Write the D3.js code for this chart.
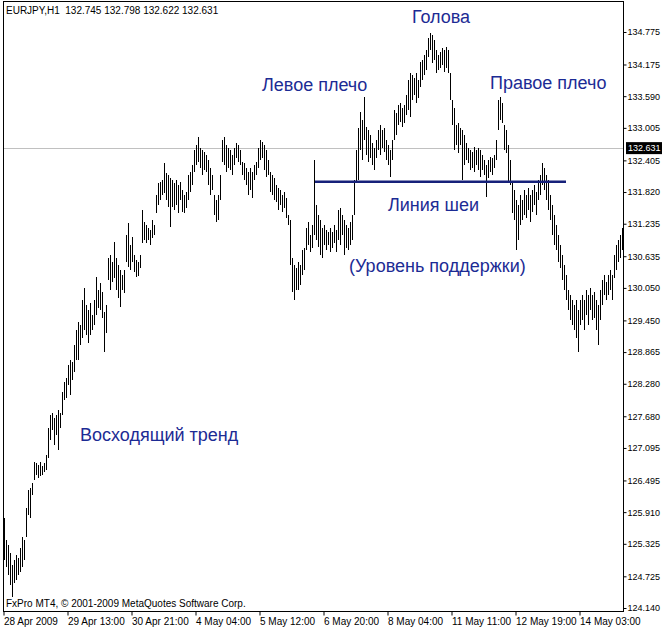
<!DOCTYPE html>
<html>
<head>
<meta charset="utf-8">
<script src="https://cdnjs.cloudflare.com/ajax/libs/d3/7.8.5/d3.min.js"></script>
<style>
    body { margin: 0; background: #fff; }
    #chart-area text { font-family: "Liberation Sans", Arial, sans-serif; }
    .axis-label { font-size: 10px; fill: #000; }
    .note { font-size: 18px; fill: #1c2b94; }
</style>
</head>
<body>
<div id="chart-area"></div>
<script>

// EURJPY H1 bars, high / low per bar (left to right)
const highs = [
    125.80,125.40,125.30,125.16,124.93,125.03,125.12,125.06,125.25,125.45,125.40,
    125.99,126.32,126.36,126.45,126.84,126.82,126.78,126.84,126.76,126.82,126.97,127.46,
    127.70,127.74,127.65,127.70,127.80,127.74,128.13,128.31,128.39,128.63,128.72,128.68,129.00,129.27,
    129.42,129.37,129.83,130.05,129.73,129.64,129.77,129.55,129.83,130.25,130.01,130.14,129.97,129.61,129.73,130.60,130.66,
    130.53,130.90,130.60,130.47,130.38,130.29,130.38,131.03,131.25,130.84,130.99,130.66,130.57,130.53,130.66,131.49,
    131.27,131.21,131.16,131.12,131.30,131.21,131.77,131.99,132.01,132.04,132.36,132.17,132.14,132.08,
    132.04,131.99,132.04,131.95,132.01,131.86,131.77,131.82,132.14,132.19,132.32,132.60,132.69,132.84,
    132.63,132.60,132.56,132.50,132.41,132.26,132.14,131.77,131.67,131.77,132.14,132.78,132.84,132.69,
    132.63,132.60,132.50,132.63,132.73,132.69,132.60,132.38,132.36,132.26,132.19,132.26,132.19,132.32,132.38,
    132.63,132.78,132.74,132.69,132.60,132.41,132.19,132.14,132.08,131.95,131.89,131.86,131.77,131.82,131.71,131.40,131.30,
    130.60,130.47,130.42,130.53,130.47,130.75,130.79,131.16,131.27,131.03,131.21,132.41,
    131.58,131.40,131.30,131.16,131.21,131.12,131.08,131.16,131.08,131.21,131.12,131.49,131.53,131.40,131.30,131.21,131.16,131.27,131.40,
    132.04,132.60,133.00,133.30,133.15,133.58,133.02,132.97,132.87,132.73,132.63,132.78,132.97,133.06,132.97,133.00,132.78,132.69,132.60,132.78,
    133.34,133.28,133.43,133.46,133.37,133.43,133.61,133.89,134.02,133.98,133.93,134.02,133.89,134.22,134.26,134.35,
    134.44,134.66,134.76,134.72,134.63,134.44,134.35,134.41,134.48,134.44,134.50,134.44,134.02,133.52,
    133.37,133.06,133.10,133.00,132.97,132.87,132.73,132.63,132.60,132.56,132.65,132.60,132.63,132.60,132.50,132.41,
    132.32,132.41,132.47,132.45,132.50,132.78,133.52,133.58,133.46,133.06,132.97,132.69,132.41,131.99,131.86,131.67,
    131.58,131.77,131.67,131.86,131.77,131.89,131.77,131.86,131.95,131.82,132.04,132.14,132.36,132.26,132.14,132.04,131.77,131.58,
    131.40,131.21,131.03,130.84,130.66,130.47,130.29,130.01,129.92,129.83,129.73,129.83,129.64,129.83,
    129.92,129.83,130.01,129.92,130.05,129.92,129.97,129.83,129.73,130.01,130.20,130.29,130.16,130.29,130.38,130.29,130.66,130.84,130.93,131.03,131.16
];

const lows = [
    125.03,124.90,124.75,124.56,124.34,124.60,124.66,124.75,124.80,124.90,125.03,
    125.45,125.86,125.80,126.23,126.50,126.60,126.54,126.58,126.60,126.65,126.69,126.91,
    127.24,127.43,127.15,127.33,127.06,127.46,127.70,127.98,128.02,128.26,128.07,128.35,128.50,128.72,
    128.72,129.00,129.13,129.27,129.18,129.03,129.18,129.27,129.37,129.55,129.68,129.64,129.49,128.87,129.22,130.20,130.01,
    130.16,130.23,130.01,129.86,129.70,130.01,129.96,130.53,130.44,130.38,130.53,130.34,130.25,130.27,130.42,130.88,
    130.93,130.88,130.93,130.84,130.97,131.03,131.43,131.58,131.67,131.77,131.80,131.67,131.54,131.18,
    131.54,131.49,131.58,131.43,131.67,131.45,131.43,131.53,131.67,131.82,131.95,132.19,132.32,132.38,
    132.26,132.14,132.23,132.19,131.95,131.77,131.86,131.40,131.27,131.30,131.67,132.38,132.32,132.19,
    132.26,132.23,132.14,132.32,132.45,132.38,132.32,132.14,132.04,131.95,131.77,131.86,131.71,132.04,132.14,
    132.26,132.41,132.45,132.23,132.10,132.14,131.82,131.77,131.67,131.64,131.49,131.58,131.45,131.53,131.34,131.21,130.47,
    129.97,129.83,130.01,130.01,130.10,130.29,130.38,130.75,130.84,130.71,130.79,131.03,
    130.93,130.81,130.66,130.60,130.84,130.75,130.84,130.71,130.79,130.88,130.71,130.93,130.84,131.03,130.66,130.79,130.75,130.84,130.93,
    131.40,132.01,132.04,132.60,132.41,132.78,132.50,132.38,132.45,132.32,132.23,132.45,132.60,132.50,132.63,132.56,132.41,132.32,132.10,132.41,
    132.78,132.87,133.06,133.11,133.02,133.10,133.24,133.34,133.21,133.52,133.61,133.46,133.56,133.76,133.89,133.98,
    134.07,134.31,134.44,134.20,134.26,134.02,134.07,134.11,134.17,134.04,134.11,134.02,133.52,133.06,
    132.60,132.69,132.54,132.69,132.04,132.32,132.41,132.36,132.23,132.26,132.19,132.32,132.23,132.10,132.23,132.14,
    131.73,132.08,132.19,132.14,132.26,132.41,132.97,133.15,133.10,132.60,132.54,131.99,131.95,131.43,131.30,130.75,
    130.93,131.21,131.30,131.40,131.34,131.49,131.27,131.45,131.58,131.40,131.67,131.77,131.95,131.86,131.67,131.49,131.30,131.03,
    130.84,130.75,130.53,130.42,130.20,130.01,129.83,129.64,129.46,129.37,129.27,129.13,128.87,129.37,
    129.46,129.27,129.55,129.37,129.64,129.46,129.49,129.27,129.00,129.46,129.73,129.92,129.83,129.92,130.01,129.83,130.23,130.38,130.53,130.60,130.75
];

const priceTicks = [134.775,134.175,133.590,133.005,132.405,131.820,131.235,130.635,130.050,
    129.450,128.865,128.280,127.680,127.095,126.495,125.910,125.325,124.725,124.140];

const timeTickBars = [0, 32, 64, 96, 128, 160, 192, 224, 256, 288];
const timeTickLabels = ["28 Apr 2009", "29 Apr 13:00", "30 Apr 21:00", "4 May 04:00", "5 May 12:00",
    "6 May 20:00", "8 May 04:00", "11 May 11:00", "12 May 19:00", "14 May 03:00"];

const symbolInfo = "EURJPY,H1\u00A0\u00A0132.745 132.798 132.622 132.631";
const copyright = "FxPro MT4, \u00A9 2001-2009 MetaQuotes Software Corp.";
const lastPrice = 132.631;

// neckline: from bar, to bar, price
const neckFrom = 155.5;
const neckTo = 281;
const neckPrice = 132.01;

class headShoulders {
    constructor(parentContainer) {
        this.parentContainer = parentContainer;
        this.initVis();
    }

    initVis() {
        let vis = this;

        vis.width = 662;
        vis.height = 628;
        vis.plot = {left: 3, right: 623, top: 1, bottom: 611};

        vis.svg = d3.select("#" + vis.parentContainer)
            .append("svg")
            .attr("width", vis.width)
            .attr("height", vis.height);

        vis.xScale = d3.scaleLinear()
            .domain([0, highs.length - 1])
            .range([4, 622]);

        vis.yScale = d3.scaleLinear()
            .domain([124.140, 134.775])
            .range([608, 32]);

        vis.updateVis();
    }

    updateVis() {
        let vis = this;
        let p = vis.plot;

        // current price line
        vis.svg.append("line")
            .attr("x1", p.left).attr("x2", p.right)
            .attr("y1", Math.round(vis.yScale(lastPrice)) + 0.5)
            .attr("y2", Math.round(vis.yScale(lastPrice)) + 0.5)
            .attr("stroke", "#c0c0c0")
            .attr("stroke-width", 1);

        // bars
        vis.svg.selectAll(".bar")
            .data(highs.map((h, i) => ({i: i, high: h, low: lows[i]})))
            .enter().append("line")
            .attr("class", "bar")
            .attr("x1", d => Math.round(vis.xScale(d.i)) + 0.5)
            .attr("x2", d => Math.round(vis.xScale(d.i)) + 0.5)
            .attr("y1", d => vis.yScale(d.high))
            .attr("y2", d => vis.yScale(d.low))
            .attr("stroke", "#000")
            .attr("stroke-width", 1)
            .attr("shape-rendering", "crispEdges");

        // neckline
        vis.svg.append("line")
            .attr("x1", vis.xScale(neckFrom)).attr("x2", vis.xScale(neckTo))
            .attr("y1", vis.yScale(neckPrice)).attr("y2", vis.yScale(neckPrice))
            .attr("stroke", "#16217a")
            .attr("stroke-width", 2.5);

        // frame
        vis.svg.append("rect")
            .attr("x", p.left + 0.5).attr("y", p.top + 0.5)
            .attr("width", p.right - p.left).attr("height", p.bottom - p.top)
            .attr("fill", "none")
            .attr("stroke", "#000")
            .attr("shape-rendering", "crispEdges");

        // price axis
        let yAxis = vis.svg.append("g")
            .attr("class", "y-axis")
            .attr("transform", `translate(${p.right + 0.5}, 0)`)
            .call(d3.axisRight(vis.yScale)
                .tickValues(priceTicks)
                .tickFormat(d3.format(".3f"))
                .tickSize(3)
                .tickPadding(1));
        yAxis.select(".domain").remove();
        yAxis.selectAll("text").attr("class", "axis-label").style("font-size", "9px");

        // last price tag
        let ly = vis.yScale(lastPrice);
        vis.svg.append("rect")
            .attr("x", p.right + 3).attr("y", ly - 6)
            .attr("width", vis.width - p.right - 3).attr("height", 12)
            .attr("fill", "#000");
        vis.svg.append("text")
            .attr("class", "axis-label")
            .attr("x", p.right + 5).attr("y", ly)
            .attr("dy", "0.34em")
            .style("font-size", "9px")
            .style("fill", "#fff")
            .text(d3.format(".3f")(lastPrice));

        // time axis
        let xAxis = vis.svg.append("g")
            .attr("class", "x-axis")
            .attr("transform", `translate(-0.5, ${p.bottom + 0.5})`)
            .call(d3.axisBottom(vis.xScale)
                .tickValues(timeTickBars)
                .tickFormat((d, i) => timeTickLabels[i])
                .tickSize(4)
                .tickPadding(2));
        xAxis.select(".domain").remove();
        xAxis.selectAll("text")
            .attr("class", "axis-label")
            .attr("text-anchor", "start")
            .attr("x", 0);

        vis.svg.append("text")
            .attr("class", "axis-label")
            .attr("x", 6).attr("y", 14)
            .text(symbolInfo);

        vis.svg.append("text")
            .attr("class", "axis-label")
            .attr("x", 6).attr("y", 607)
            .text(copyright);

        // pattern notes
        const notes = [
            {t: "Голова", x: 441, y: 23, a: "middle"},
            {t: "Левое плечо", x: 262, y: 91, a: "start"},
            {t: "Правое плечо", x: 490, y: 89, a: "start"},
            {t: "Линия шеи", x: 388, y: 211, a: "start"},
            {t: "(Уровень поддержки)", x: 349, y: 272, a: "start"},
            {t: "Восходящий тренд", x: 80, y: 441, a: "start"}
        ];
        vis.svg.selectAll(".note")
            .data(notes)
            .enter().append("text")
            .attr("class", "note")
            .attr("x", d => d.x)
            .attr("y", d => d.y)
            .attr("text-anchor", d => d.a)
            .text(d => d.t);
    }
}

new headShoulders("chart-area");
</script>
</body>
</html>
